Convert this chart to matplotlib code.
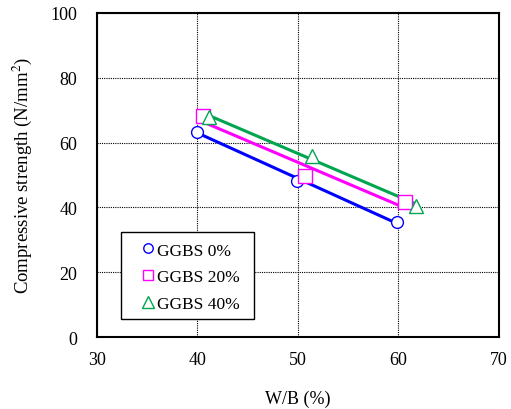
import numpy as np
import matplotlib.pyplot as plt
from matplotlib.patches import Rectangle

plt.rcParams['font.family'] = ['Liberation Serif', 'DejaVu Serif']
plt.rcParams['mathtext.fontset'] = 'stix'

# measured points (W/B %, strength N/mm2)
wb_0 = [40.0, 49.9, 59.9]
cs_0 = [63.4, 48.2, 35.4]
wb_20 = [40.5, 50.7, 60.6]
cs_20 = [68.1, 49.6, 41.6]
wb_40 = [41.1, 51.4, 61.7]
cs_40 = [67.8, 56.0, 40.5]

labels = ["GGBS 0%", "GGBS 20%", "GGBS 40%"]
colors = ["#0000ff", "#ff00ff", "#00a550"]
markers = ["o", "s", "^"]
msizes = [8.5, 9.5, 10.5]

fig = plt.figure(figsize=(5.11, 4.10), dpi=100)
ax = fig.add_axes([0.1898, 0.1756, 0.7867, 0.7903])

for x, y, lab, c, m, ms in zip([wb_0, wb_20, wb_40], [cs_0, cs_20, cs_40], labels, colors, markers, msizes):
    x = np.array(x)
    y = np.array(y)
    # linear fit line across the data range
    k, b = np.polyfit(x, y, 1)
    ax.plot([x.min(), x.max()], [k * x.min() + b, k * x.max() + b], color=c, lw=2.2, zorder=2)
    ax.plot(x, y, m, mfc='white', mec=c, mew=1.0, ms=ms, ls='none', label=lab, zorder=3)

ax.set_xlim(30, 70)
ax.set_ylim(0, 100)
ax.set_xticks([30, 40, 50, 60, 70])
ax.set_yticks([0, 20, 40, 60, 80, 100])
ax.grid(True, color='black', ls=(0, (1, 1)), lw=0.8)
ax.tick_params(length=0, labelsize=13)
ax.tick_params(axis='x', pad=10)
ax.tick_params(axis='y', pad=14)
for s in ax.spines.values():
    s.set_linewidth(1.5)

ax.set_xlabel("W/B (%)", fontsize=13, labelpad=16)
ax.set_ylabel("Compressive strength (N/mm$^2$)", fontsize=13.5, labelpad=12)

# legend box drawn separately, entries placed inside it
box = Rectangle((0.0597, 0.0556), 0.3308, 0.2684, transform=ax.transAxes,
                facecolor='white', edgecolor='black', lw=1.0, zorder=4)
ax.add_patch(box)
handles, labs = ax.get_legend_handles_labels()
leg = ax.legend(handles, labs, loc='center left', bbox_to_anchor=(0.1107, 0.185), fontsize=12.5,
                frameon=False, handletextpad=0.1, handlelength=0.8, borderpad=0,
                labelspacing=0.6, markerscale=0.8, borderaxespad=0)
leg.set_zorder(5)

fig.savefig("out.png", dpi=100)
